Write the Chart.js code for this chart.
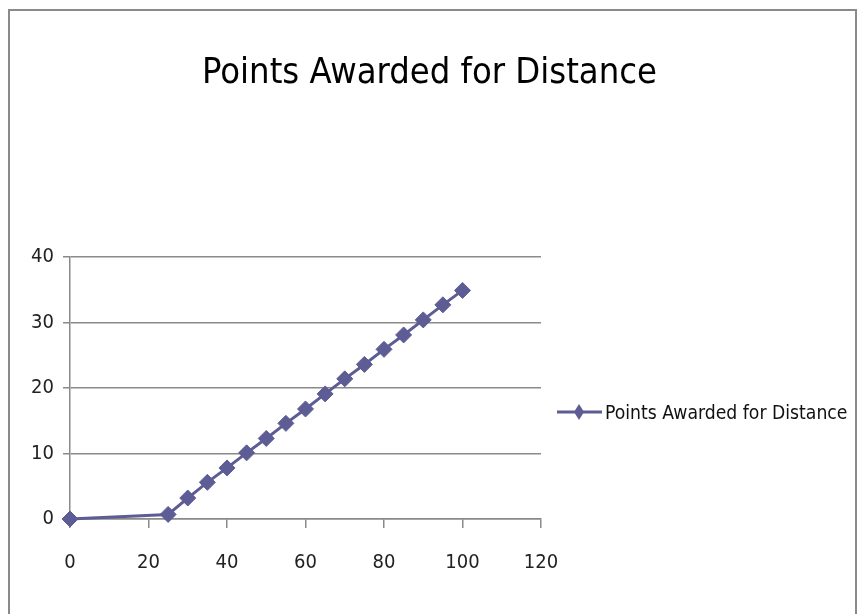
<!DOCTYPE html>
<html><head><meta charset="utf-8">
<script src="https://cdn.jsdelivr.net/npm/chart.js@4"></script>
<style>
html,body{margin:0;padding:0;background:#fff;overflow:hidden}
#wrap{position:relative;width:859px;height:614px}
#frame{position:absolute;left:8px;top:9px;width:849px;height:640px;border:2px solid #8a8a8a;box-sizing:border-box}
canvas{position:absolute;left:0;top:0}
</style></head>
<body><div id="wrap"><div id="frame"></div><canvas id="c" width="859" height="614"></canvas></div>
<script>
const titleText = "Points Awarded for Distance";
const seriesLabel = "Points Awarded for Distance";
const distances = [0, 25, 30, 35, 40, 45, 50, 55, 60, 65, 70, 75, 80, 85, 90, 95, 100];
const points = [0, 0.7, 3.2, 5.6, 7.8, 10.1, 12.3, 14.6, 16.8, 19.1, 21.4, 23.6, 25.9, 28.1, 30.4, 32.7, 34.9];
const xTicks = [0, 20, 40, 60, 80, 100, 120];
const yTicks = [0, 10, 20, 30, 40];

const COND = "'DejaVu Sans Condensed', 'Liberation Sans Narrow', 'Liberation Sans', sans-serif";
const SERIES = '#5d5c94';
const GRID = '#8a8a8a';

const sideLegend = {
  id: 'sideLegend',
  afterDraw(chart) {
    const ds = chart.data.datasets[0];
    const ca = chart.chartArea;
    const ctx = chart.ctx;
    const x0 = ca.right + 16, y = 412;
    ctx.save();
    ctx.strokeStyle = ds.borderColor;
    ctx.lineWidth = 3;
    ctx.beginPath(); ctx.moveTo(x0, y); ctx.lineTo(x0 + 45, y); ctx.stroke();
    const cx = x0 + 22;
    ctx.fillStyle = ds.backgroundColor;
    ctx.beginPath();
    ctx.moveTo(cx, y - 8); ctx.lineTo(cx + 5, y); ctx.lineTo(cx, y + 8); ctx.lineTo(cx - 5, y); ctx.closePath();
    ctx.fill();
    ctx.fillStyle = '#111';
    ctx.font = "19.2px " + COND;
    ctx.textBaseline = 'alphabetic';
    ctx.textAlign = 'left';
    ctx.fillText(ds.label, x0 + 48, y + 7);
    ctx.restore();
  }
};

new Chart(document.getElementById('c'), {
  type: 'scatter',
  data: {
    datasets: [{
      label: seriesLabel,
      data: distances.map((d, i) => ({x: d, y: points[i]})),
      showLine: true,
      clip: false,
      borderColor: SERIES,
      backgroundColor: SERIES,
      borderWidth: 3,
      pointStyle: 'rectRot',
      pointRadius: 8,
      pointBorderWidth: 1,
      pointBackgroundColor: SERIES,
      pointBorderColor: SERIES
    }]
  },
  options: {
    responsive: false,
    animation: false,
    events: [],
    layout: {padding: {left: 0, right: 0, top: 0, bottom: 0}},
    plugins: {
      legend: {display: false},
      tooltip: {enabled: false},
      title: {
        display: true,
        text: titleText,
        color: '#000',
        font: {family: COND, size: 36, weight: 'normal', lineHeight: 1.2},
        padding: {top: 52, bottom: 161.8}
      }
    },
    scales: {
      x: {
        type: 'linear',
        min: 0, max: 120,
        afterBuildTicks(s) { s.ticks = xTicks.map(v => ({value: v})); },
        afterFit(s) { s.height = 95; },
        grid: {drawOnChartArea: false, drawTicks: true, tickLength: 9, color: GRID, lineWidth: 1.5},
        border: {display: true, color: GRID, width: 1.5},
        ticks: {color: '#222', padding: 23, font: {family: COND, size: 20}, maxRotation: 0}
      },
      y: {
        min: 0, max: 40,
        afterBuildTicks(s) { s.ticks = yTicks.map(v => ({value: v})); },
        afterFit(s) { s.width = 70; },
        grid: {drawOnChartArea: true, drawTicks: true, tickLength: 7, color: GRID, lineWidth: 1.5},
        border: {display: true, color: GRID, width: 1.5},
        ticks: {color: '#222', padding: 9, font: {family: COND, size: 20}}
      },
      ySpace: {
        position: 'right',
        min: 0, max: 40,
        afterFit(s) { s.width = 318; },
        grid: {display: false, drawTicks: false},
        border: {display: false},
        ticks: {display: false}
      }
    }
  },
  plugins: [sideLegend]
});
</script>
</body></html>
